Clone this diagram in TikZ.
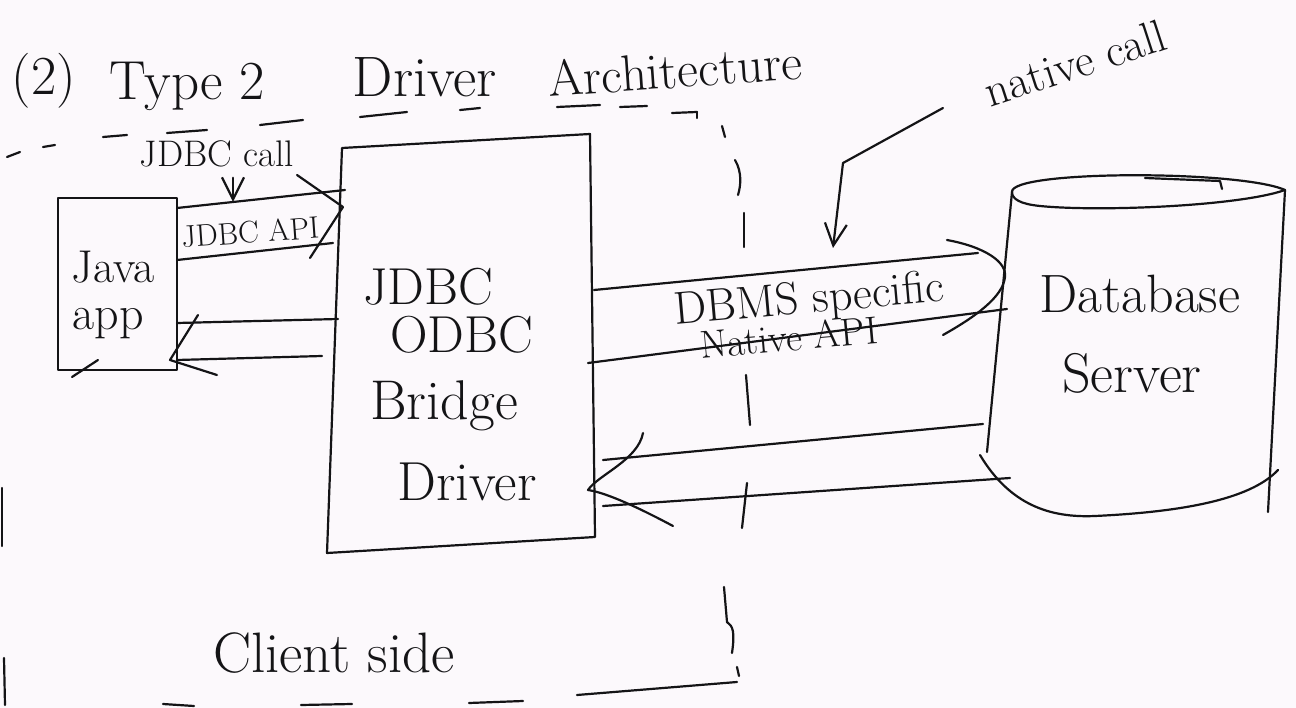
\documentclass[tikz,border=0pt]{standalone}
\usepackage{fontspec}
\usepackage{graphicx}
\usetikzlibrary{arrows.meta,calc}
\definecolor{paper}{RGB}{252,249,252}
\definecolor{ink}{RGB}{20,20,22}
\tikzset{
  pen/.style={draw=ink, line width=2.2pt, line cap=round, line join=round},
  box/.style={pen, rectangle, inner sep=0pt, outer sep=0pt},
  area/.style={rectangle, inner sep=0pt, outer sep=0pt},
  lbl/.style={text=ink, inner sep=0pt, anchor=base},
  barb/.style={pen, -{Straight Barb[length=22pt,width=22pt,line width=2.2pt]}},
}
\newcommand{\fs}[1]{\fontsize{#1}{#1}\selectfont}
\begin{document}
\begin{tikzpicture}[x=1pt,y=-1pt]
\fill[paper] (0,0) rectangle (1296,708);
\useasboundingbox (0,0) rectangle (1296,708);

% title
\node[lbl, font=\fs{55}] (t1) at (44,95) {(2)};
\node[lbl, font=\fs{55}] (t2) at (187,100) {Type 2};
\node[lbl, font=\fs{57}] (t3) at (425,97) {Driver};
\node[lbl, font=\fs{51}, rotate=4] (t4) at (676,88) {Architecture};

% client-side boundary (hand-dashed)
\foreach \a/\b/\c/\d in {7/157/20/152, 43/147/55/145, 103/137/127/135, 167/133/207/130,
  260/125/303/120, 360/117/407/112, 460/110/480/108, 557/107/600/105, 620/107/647/106,
  672/113/697/112, 697/112/697/118, 722/126/725/137, 744/213/744/247, 746/375/750/425,
  747/483/742/528, 737/667/739/676, 737/682/577/695, 523/701/469/703, 352/704/301/705,
  194/706/163/704, 2/488/2/546, 4/658/5/705}
  \draw[pen] (\a,\b) -- (\c,\d);
\draw[pen] (735,160) .. controls (742,172) and (741,185) .. (738,195);
\draw[pen] (724,587) -- (727,622) .. controls (733,626) and (735,632) .. (732,653);

% components
\node[box, minimum width=119pt, minimum height=172pt] (java) at (117.5,284) {};
\node[area, minimum width=261pt, minimum height=404pt] (br) at (463.5,348) {};
\draw[pen] ([xshift=9pt,yshift=-2pt]br.north west) -- ([xshift=-4pt,yshift=12pt]br.north east)
  -- ([xshift=1pt,yshift=13pt]br.south east) -- ([xshift=-6pt,yshift=-3pt]br.south west) -- cycle;
\node[area, minimum width=270pt, minimum height=320pt] (db) at (1142,350) {};

\node[lbl, font=\fs{46}] (javat) at (113,283) {Java};
\node[lbl, font=\fs{48}] (appt) at (108,330) {app};

\node[lbl, font=\fs{52}] (b1) at (428,305) {JDBC};
\node[lbl, font=\fs{52}] (b2) at (462,353) {ODBC};
\node[lbl, font=\fs{56}] (b3) at (444,420) {Bridge};
\node[lbl, font=\fs{55}] (b4) at (467,500) {Driver};

% database cylinder
\draw[pen] (1012,192) .. controls (1010,170) and (1240,170) .. (1285,190)
  .. controls (1240,206) and (1100,212) .. (1040,206)
  .. controls (1020,204) and (1012,199) .. (1012,192);
\draw[pen] (1145,178) -- (1220,181) -- (1222,189);
\draw[pen] (1012,192) -- (987,452);
\draw[pen] (1285,190) -- (1268,512);
\draw[pen] (980,455) .. controls (1010,505) and (1050,518) .. (1095,516)
  .. controls (1180,512) and (1250,500) .. (1278,470);
\node[lbl, font=\fs{54}] (d1) at (1140,313) {Database};
\node[lbl, font=\fs{56}] (d2) at (1132,393) {Server};

% JDBC call: java app -> bridge
\node[lbl, font=\fs{37}] (jc) at (217,167) {JDBC call};
\draw[barb] ([xshift=16pt,yshift=-10pt]jc.south) -- ++(0,24);
\node[lbl, font=\fs{31}, rotate=4] (ja) at (251,243) {JDBC API};
\draw[pen] ([yshift=-10pt]java.north east) -- ([xshift=12pt,yshift=-44pt]br.north west);
\draw[pen] ([yshift=-62pt]java.north east) -- ([yshift=-97pt]br.north west);
\coordinate (h1) at ([xshift=10pt,yshift=-61pt]br.north west);
\draw[pen] ($(h1)+(-46,-32)$) -- (h1) -- ($(h1)+(-33,51)$);

% result: bridge -> java app
\draw[pen] ([xshift=5pt,yshift=-173pt]br.north west) -- ([yshift=-125pt]java.north east);
\draw[pen] ([xshift=-11pt,yshift=-210pt]br.north west) -- ([yshift=-162pt]java.north east);
\coordinate (h2) at ([xshift=-7pt,yshift=-162pt]java.north east);
\draw[pen] ($(h2)+(28,-45)$) -- (h2) -- ($(h2)+(47,15)$);
\draw[pen] ([xshift=40pt,yshift=10pt]java.south west) -- ([xshift=14pt,yshift=-7pt]java.south west);

% native API: bridge -> database
\draw[pen] ([yshift=-144pt]br.north east) -- ([xshift=-29pt,yshift=-63pt]db.north west);
\draw[pen] ([xshift=-6pt,yshift=-217pt]br.north east) -- ([yshift=-119pt]db.north west);
\coordinate (h3) at ([xshift=-2pt,yshift=-87pt]db.north west);
\draw[pen] ($(h3)+(-58,-37)$) .. controls ($(h3)+(-20,-30)$) and ($(h3)+(2,-15)$) .. (h3)
  .. controls ($(h3)+(-2,20)$) and ($(h3)+(-30,40)$) .. ($(h3)+(-62,58)$);
\node[lbl, font=\fs{46}, rotate=5] (p1) at (810,313) {DBMS specific};
\node[lbl, font=\fs{39}, rotate=5] (p2) at (790,351) {Native API};

% result: database -> bridge
\draw[pen] ([xshift=-24pt,yshift=-234pt]db.north west) -- ([xshift=9pt,yshift=-314pt]br.north east);
\draw[pen] ([xshift=3pt,yshift=-288pt]db.north west) -- ([xshift=9pt,yshift=-360pt]br.north east);
\coordinate (h4) at ([xshift=-6pt,yshift=-344pt]br.north east);
\draw[pen] ($(h4)+(55,-57)$) .. controls ($(h4)+(50,-30)$) and ($(h4)+(10,-15)$) .. (h4)
  .. controls ($(h4)+(20,3)$) and ($(h4)+(55,20)$) .. ($(h4)+(85,36)$);

% native call annotation
\node[lbl, font=\fs{46}, rotate=18] (nc) at (1080,78) {native call};
\coordinate (ncs) at (943,108);
\coordinate (nck) at (843,163);
\coordinate (nct) at (833,248);
\draw[barb] (ncs) -- (nck) -- (nct);

\node[lbl, font=\fs{57}] (cs) at (334,672) {Client side};
\end{tikzpicture}
\end{document}
